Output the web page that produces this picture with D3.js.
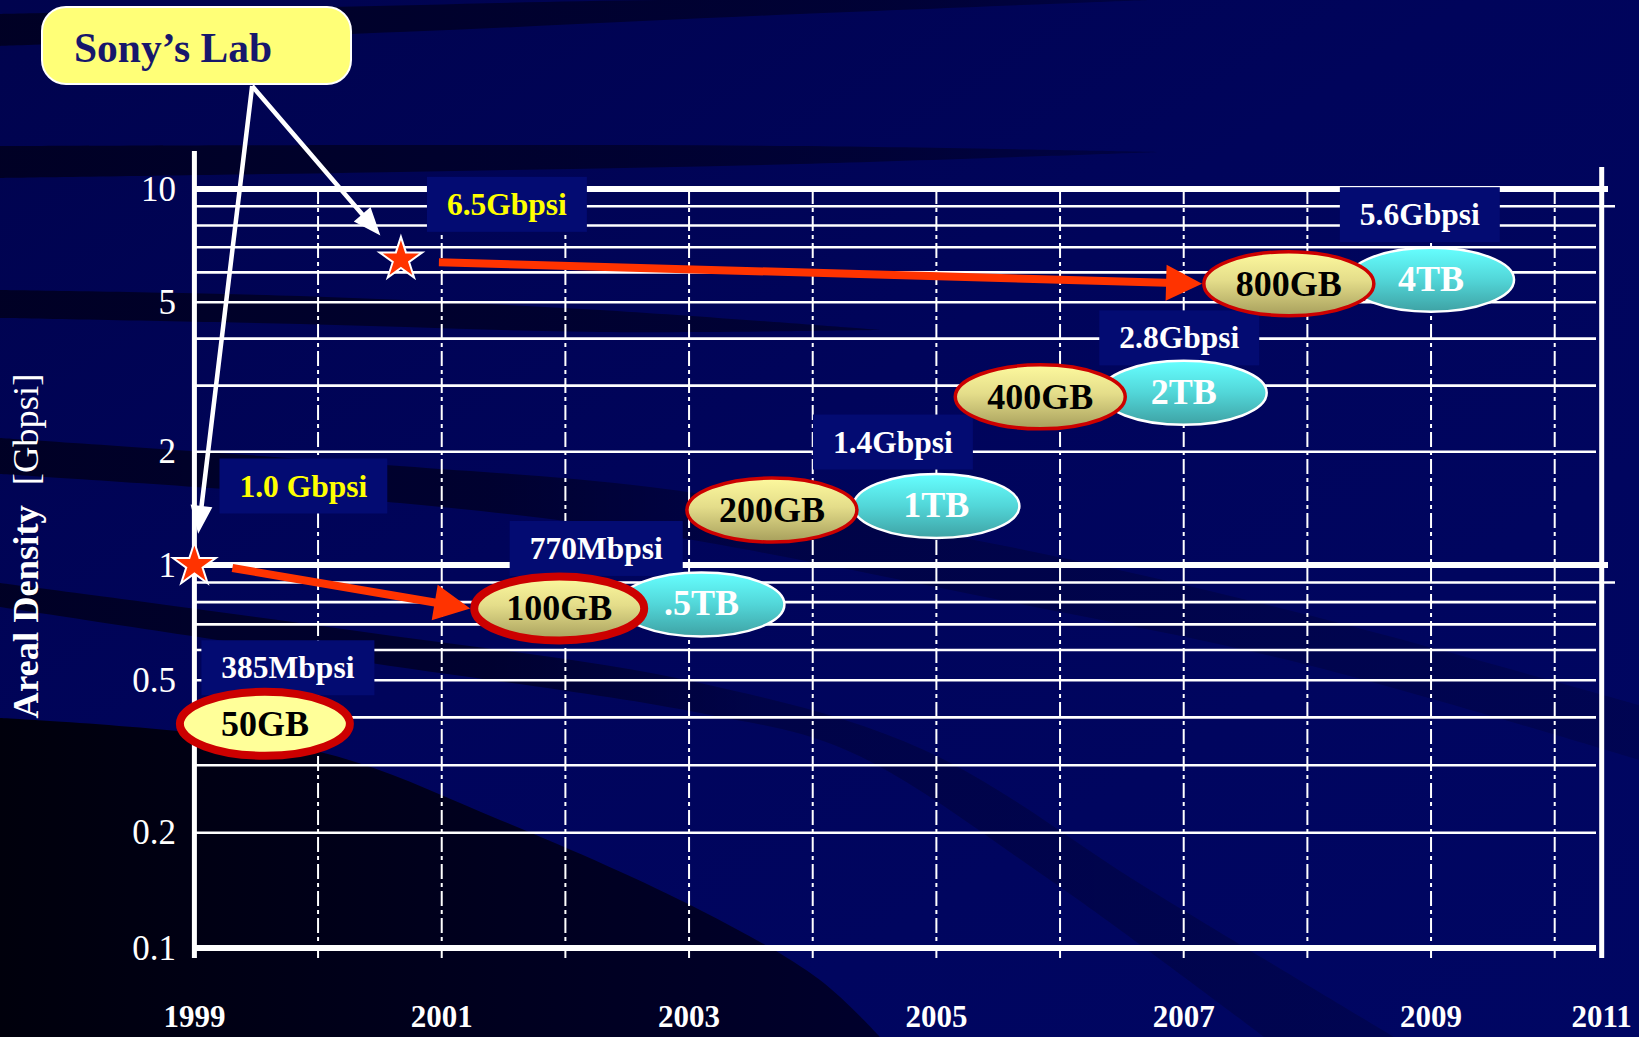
<!DOCTYPE html>
<html>
<head>
<meta charset="utf-8">
<title>Areal Density Roadmap</title>
<script src="https://cdn.jsdelivr.net/npm/d3@7/dist/d3.min.js"></script>
<style>
  html, body { margin: 0; padding: 0; background: #000460; overflow: hidden; }
  svg { display: block; }
</style>
</head>
<body>
<svg id="chart" width="1639" height="1037"></svg>
<script>
// ---------- data ----------
const yearTicks = [1999, 2001, 2003, 2005, 2007, 2009, 2011];
const gridYears = [2000, 2001, 2002, 2003, 2004, 2005, 2006, 2007, 2008, 2009, 2010];
const densityTicks = [0.1, 0.2, 0.5, 1, 2, 5, 10];
const densityTickLabels = ["0.1", "0.2", "0.5", "1", "2", "5", "10"];
const densityGrid = [0.1, 0.2, 0.3, 0.4, 0.5, 0.6, 0.7, 0.8, 0.9, 1, 2, 3, 4, 5, 6, 7, 8, 9, 10];

// product generations: single-layer capacity and multi-layer capacity
const productYear = [1999.57, 2001.95, 2003.67, 2005.84, 2007.85];
const productDensity = [0.385, 0.77, 1.4, 2.8, 5.6];          // Gbpsi
const productDensityText = ["385Mbpsi", "770Mbpsi", "1.4Gbpsi", "2.8Gbpsi", "5.6Gbpsi"];
const singleCapacity = ["50GB", "100GB", "200GB", "400GB", "800GB"];
const multiYear = [null, 2003.1, 2005, 2007, 2009];
const multiCapacity = [null, ".5TB", "1TB", "2TB", "4TB"];

// laboratory demonstrations
const labYear = [1999, 2000.67];
const labDensity = [1.0, 6.5];                                 // Gbpsi
const labText = ["1.0 Gbpsi", "6.5Gbpsi"];
const labLeadsTo = [1, 4];                                     // product index reached

const calloutText = "Sony\u2019s Lab";
const axisTitle = ["Areal Density", "[Gbpsi]"];

// ---------- layout ----------
const W = 1639, H = 1037;
const SERIF = "'Liberation Serif','Times New Roman',Times,serif";
const BOX = "#030b72";
const plot = { left: 194.4, right: 1601.7, axisTop: 151, rightTop: 167, bottom: 958 };

const x = d3.scaleLinear().domain([1999, 2010.38]).range([plot.left, plot.right]).clamp(true);
const y = d3.scaleLog().domain([0.1, 1, 10]).range([948, 565, 189]);

// label placement relative to the single-layer disc / star
const densityLabelOffset = [[23, -56], [37, -60], [121, -68], [139, -59], [131, -69]];
const labLabelOffset = [[109, -79], [106, -55]];

const svg = d3.select("#chart");
const defs = svg.append("defs");

function linGrad(id, stops, attrs) {
  const g = defs.append("linearGradient").attr("id", id);
  Object.entries(attrs).forEach(([k, v]) => g.attr(k, v));
  stops.forEach(s => g.append("stop").attr("offset", s[0]).attr("stop-color", s[1])
    .attr("stop-opacity", s[2] === undefined ? 1 : s[2]));
}
linGrad("bgBase", [["0%", "#00034e"], ["45%", "#00045b"], ["100%", "#000663"]],
  { x1: 0, y1: 0, x2: 1, y2: 1 });
linGrad("fadeR", [["0%", "#000020", 0.9], ["60%", "#000020", 0.6], ["100%", "#000020", 0.15]],
  { gradientUnits: "userSpaceOnUse", x1: 0, y1: 0, x2: 1450, y2: 0 });
linGrad("fadeLong", [["0%", "#000020", 0.9], ["30%", "#000020", 0.72], ["46%", "#000020", 0.35], ["100%", "#000020", 0.22]],
  { gradientUnits: "userSpaceOnUse", x1: 0, y1: 0, x2: 1639, y2: 0 });
linGrad("darkCorner", [["0%", "#00000c"], ["60%", "#000020"], ["100%", "#00002c"]],
  { gradientUnits: "userSpaceOnUse", x1: 0, y1: 0, x2: 880, y2: 0 });
linGrad("gbFill", [["0%", "#fdf99e"], ["45%", "#e4dd8a"], ["100%", "#a79f5c"]],
  { x1: 0, y1: 0, x2: 0, y2: 1 });
linGrad("tbFill", [["0%", "#66ffff"], ["50%", "#52d6d8"], ["100%", "#3ea2a4"]],
  { x1: 0, y1: 0, x2: 0, y2: 1 });

// ---------- background swooshes ----------
const bg = svg.append("g");
bg.append("rect").attr("width", W).attr("height", H).attr("fill", "url(#bgBase)");
const edge = d3.line().curve(d3.curveCatmullRom.alpha(0.5));
function band(upper, lower) {
  return edge(upper) + "L" + edge(lower.slice().reverse()).slice(1) + "Z";
}
bg.append("path").attr("fill", "url(#fadeR)")
  .attr("d", band([[0, 14], [330, 7], [660, 0], [1150, 0]], [[0, 46], [400, 32], [800, 14], [1150, 0]]));
bg.append("path").attr("fill", "url(#fadeR)")
  .attr("d", band([[0, 146], [400, 145], [800, 146], [1160, 152]], [[0, 178], [400, 172], [800, 164], [1160, 152]]));
bg.append("path").attr("fill", "url(#fadeR)")
  .attr("d", band([[0, 290], [300, 296], [600, 310], [880, 330]], [[0, 318], [300, 324], [600, 332], [880, 330]]));
bg.append("path").attr("fill", "url(#fadeLong)")
  .attr("d", band([[0, 438], [400, 466], [650, 487], [1000, 545], [1300, 613], [1639, 705]],
                  [[0, 474], [400, 503], [650, 533], [1000, 600], [1300, 663], [1639, 760]]));
bg.append("path").attr("fill", "url(#fadeLong)")
  .attr("d", band([[0, 583], [350, 630], [700, 683], [924, 750], [1150, 890], [1394, 1037]],
                  [[0, 607], [350, 660], [700, 713], [846, 750], [1050, 880], [1264, 1037]]));
bg.append("path").attr("fill", "url(#darkCorner)")
  .attr("d", edge([[0, 718], [312, 750], [500, 820], [700, 910], [820, 980], [880, 1037]]) + "L0,1037Z");

// ---------- grid ----------
const grid = svg.append("g");
const gridEnd = v => (v === 10 || v === 1) ? 1608 : (v === 9 || v === 0.9) ? 1615 : 1596;
const isMajor = v => v === 10 || v === 1 || v === 0.1;

grid.selectAll("line.h").data(densityGrid).join("line").attr("class", "h")
  .attr("x1", plot.left).attr("x2", d => gridEnd(d))
  .attr("y1", d => y(d)).attr("y2", d => y(d))
  .attr("stroke", "#ffffff").attr("stroke-width", d => isMajor(d) ? 6 : 2.6);

grid.selectAll("line.v").data(gridYears).join("line").attr("class", "v")
  .attr("x1", d => x(d)).attr("x2", d => x(d))
  .attr("y1", y(10)).attr("y2", plot.bottom)
  .attr("stroke", "#ffffff").attr("stroke-width", 2)
  .attr("stroke-dasharray", "15,4,4,4");

// axes frame
grid.append("line").attr("x1", plot.left).attr("x2", plot.left)
  .attr("y1", plot.axisTop).attr("y2", plot.bottom)
  .attr("stroke", "#ffffff").attr("stroke-width", 5);
grid.append("line").attr("x1", plot.right).attr("x2", plot.right)
  .attr("y1", plot.rightTop).attr("y2", plot.bottom)
  .attr("stroke", "#ffffff").attr("stroke-width", 5);

// tick labels
grid.selectAll("text.ytick").data(densityTicks).join("text").attr("class", "ytick")
  .attr("x", 176).attr("y", d => y(d) + 11.5)
  .attr("text-anchor", "end").attr("font-family", SERIF).attr("font-size", 35)
  .attr("fill", "#ffffff").text((d, i) => densityTickLabels[i]);

grid.selectAll("text.xtick").data(yearTicks).join("text").attr("class", "xtick")
  .attr("x", d => x(d)).attr("y", 1027)
  .attr("text-anchor", "middle").attr("font-family", SERIF).attr("font-weight", "bold")
  .attr("font-size", 31).attr("fill", "#ffffff").text(d => d);

// axis title
const title = svg.append("text")
  .attr("transform", "translate(38,546) rotate(-90)")
  .attr("text-anchor", "middle").attr("font-family", SERIF)
  .attr("font-size", 36.5).attr("fill", "#ffffff");
title.append("tspan").attr("font-weight", "bold").text(axisTitle[0]);
title.append("tspan").attr("dx", 20).text(axisTitle[1]);

// ---------- boxed density labels ----------
const labels = svg.append("g");
function boxedLabel(cx, cy, str, color) {
  const g = labels.append("g");
  const rect = g.append("rect").attr("fill", BOX);
  const t = g.append("text").attr("x", cx).attr("y", cy + 10.5)
    .attr("text-anchor", "middle").attr("font-family", SERIF).attr("font-weight", "bold")
    .attr("font-size", 31.5).attr("fill", color).text(str);
  const w = t.node().getComputedTextLength() + 40;
  rect.attr("x", cx - w / 2).attr("y", cy - 27.5).attr("width", w).attr("height", 55);
}

const single = productYear.map((yr, i) => ({ cx: x(yr), cy: y(productDensity[i]), i }));
single.forEach(p => {
  const [dx, dy] = densityLabelOffset[p.i];
  boxedLabel(p.cx + dx, p.cy + dy, productDensityText[p.i], "#ffffff");
});
const labs = labYear.map((yr, i) => ({ cx: x(yr), cy: y(labDensity[i]), i }));
labs.forEach(p => {
  const [dx, dy] = labLabelOffset[p.i];
  boxedLabel(p.cx + dx, p.cy + dy, labText[p.i], "#ffff00");
});

// ---------- arrows ----------
function arrowPath(x0, y0, x1, y1, shaft, headLen, headW) {
  const len = Math.hypot(x1 - x0, y1 - y0);
  const ux = (x1 - x0) / len, uy = (y1 - y0) / len;
  const nx = -uy, ny = ux;
  const bx = x1 - ux * headLen, by = y1 - uy * headLen;
  const s = shaft / 2, h = headW / 2;
  const pts = [
    [x0 + nx * s, y0 + ny * s], [bx + nx * s, by + ny * s], [bx + nx * h, by + ny * h],
    [x1, y1],
    [bx - nx * h, by - ny * h], [bx - nx * s, by - ny * s], [x0 - nx * s, y0 - ny * s]
  ];
  return "M" + pts.map(p => p[0].toFixed(1) + "," + p[1].toFixed(1)).join("L") + "Z";
}

const GB_RX = 85, GB_RY = 32;
const arrows = svg.append("g");
labs.forEach(p => {
  const target = single[labLeadsTo[p.i]];
  const thick = target.i < 2 ? 8 : 3.5;
  arrows.append("path")
    .attr("d", arrowPath(p.cx + 38, p.cy + 3, target.cx - GB_RX - thick / 2, target.cy, 8, 36, 36))
    .attr("fill", "#ff3300");
});

// ---------- capacity discs ----------
const discs = svg.append("g");
single.forEach(p => {
  if (multiYear[p.i] === null) return;
  const cx = x(multiYear[p.i]), cy = p.cy - 4;
  discs.append("ellipse").attr("cx", cx).attr("cy", cy).attr("rx", 83).attr("ry", 32)
    .attr("fill", "url(#tbFill)").attr("stroke", "#ffffff").attr("stroke-width", 2.5);
  discs.append("text").attr("x", cx).attr("y", cy + 11)
    .attr("text-anchor", "middle").attr("font-family", SERIF).attr("font-weight", "bold")
    .attr("font-size", 36).attr("fill", "#ffffff").text(multiCapacity[p.i]);
});
single.forEach(p => {
  const current = p.i === 0;
  const thick = p.i < 2;
  discs.append("ellipse").attr("cx", p.cx).attr("cy", p.cy).attr("rx", GB_RX).attr("ry", GB_RY)
    .attr("fill", current ? "#ffff99" : "url(#gbFill)")
    .attr("stroke", "#cc0000").attr("stroke-width", thick ? 8 : 3.5);
  discs.append("text").attr("x", p.cx).attr("y", p.cy + 12)
    .attr("text-anchor", "middle").attr("font-family", SERIF).attr("font-weight", "bold")
    .attr("font-size", 36).attr("fill", "#000000").text(singleCapacity[p.i]);
});

// ---------- lab stars ----------
const STAR_R = 22.5;
const star = d3.symbol().type(d3.symbolStar).size(STAR_R * STAR_R / 0.8908130915292852);
svg.append("g").selectAll("path").data(labs).join("path")
  .attr("transform", d => `translate(${d.cx},${d.cy})`)
  .attr("d", star()).attr("fill", "#ff3300")
  .attr("stroke", "#ffffff").attr("stroke-width", 2);

// ---------- callout ----------
const callout = { x: 42, y: 7, w: 309, h: 77 };
const origin = [callout.x + callout.w * 0.68, callout.y + callout.h + 2];
const pointers = svg.append("g");
labs.forEach(p => {
  const dx = origin[0] - p.cx, dy = origin[1] - p.cy;
  const d = Math.hypot(dx, dy);
  const gap = STAR_R + 9;
  pointers.append("path")
    .attr("d", arrowPath(origin[0], origin[1], p.cx + dx / d * gap, p.cy + dy / d * gap, 4.5, 28, 22))
    .attr("fill", "#ffffff");
});
svg.append("rect").attr("x", callout.x).attr("y", callout.y)
  .attr("width", callout.w).attr("height", callout.h).attr("rx", 24).attr("ry", 24)
  .attr("fill", "#ffff77").attr("stroke", "#ffffff").attr("stroke-width", 2);
svg.append("text").attr("x", 74).attr("y", 62)
  .attr("font-family", SERIF).attr("font-weight", "bold").attr("font-size", 41.5)
  .attr("fill", "#17176c").text(calloutText);
</script>
</body>
</html>
